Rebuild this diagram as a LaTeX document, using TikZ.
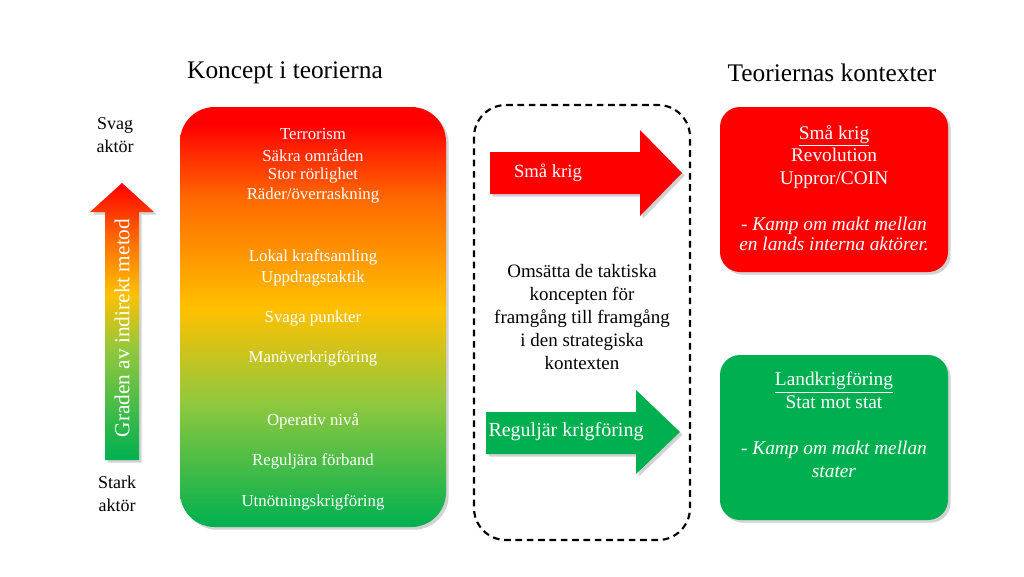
\documentclass[tikz,border=0pt]{standalone}
\usepackage{fontspec}
\setmainfont{Liberation Serif}
\usetikzlibrary{shapes.arrows,shadows}
\definecolor{kred}{HTML}{FF0000}
\definecolor{kgreen}{HTML}{00B050}
\definecolor{kyel}{HTML}{FFC000}
\definecolor{korange}{HTML}{FF6A00}
\definecolor{klime}{HTML}{92C83E}
\pgfdeclareverticalshading{konc}{100bp}{color(0bp)=(kgreen);color(25bp)=(kgreen);color(40bp)=(klime);color(51bp)=(kyel);color(64bp)=(korange);color(73bp)=(kred);color(100bp)=(kred)}
\pgfdeclareverticalshading{varr}{100bp}{color(0bp)=(kgreen);color(25bp)=(kgreen);color(45bp)=(klime);color(55bp)=(kyel);color(65bp)=(korange);color(75bp)=(kred);color(100bp)=(kred)}
\tikzset{
 sh/.style={drop shadow={shadow xshift=2pt,shadow yshift=-2pt,opacity=0.35}},
 wt/.style={text=white,font=\fontsize{12.6}{15}\selectfont,align=center},
 bt/.style={text=black,font=\fontsize{13.5}{17}\selectfont,align=center},
 ttl/.style={font=\fontsize{19}{22}\selectfont},
 bxs/.style={sh,rounded corners=15pt},
 bx/.style={text=white,font=\fontsize{14.5}{17.2}\selectfont,align=center},
}
\begin{document}
\begin{tikzpicture}[x=0.75pt,y=-0.75pt]
\useasboundingbox[fill=white] (0,0) rectangle (1024,576);
\node[ttl] (t1) at (285,73) {Koncept i teorierna};
\node[ttl] (t2) at (832,73) {Teoriernas kontexter};
% left box
\path[sh,rounded corners=26pt,shading=konc] (180,107) rectangle (446,527);
\foreach \t/\y [count=\i] in {{Terrorism}/134,{Säkra områden}/155,{Stor rörlighet}/175,{Räder/överraskning}/195,{Lokal kraftsamling}/257,{Uppdragstaktik}/278,{Svaga punkter}/318,{Manöverkrigföring}/358,{Operativ nivå}/421,{Reguljära förband}/461,{Utnötningskrigföring}/502}
  \node[wt] (c\i) at (313,\y) {\t};
% vertical arrow
\path[sh,shading=varr] (105,460) -- (105,212) -- (90,212) -- (122,183) -- (154,212) -- (139,212) -- (139,460) -- cycle;
\node[wt,rotate=90,font=\fontsize{16}{18}\selectfont] (va) at (122,328) {Graden av indirekt metod};
\node[bt] (svag) at (115,135) {Svag\\aktör};
\node[bt] (stark) at (117,494) {Stark\\aktör};
% dashed box
\draw[line width=1.6pt,dash pattern=on 5pt off 3.5pt,rounded corners=24pt] (474,105) rectangle (690,540);
\path[sh,fill=kred] (490,152) -- (640,152) -- (640,130) -- (682,173) -- (640,216) -- (640,194) -- (490,194) -- cycle;
\node[wt,font=\fontsize{14}{15}\selectfont] (a1) at (548,173) {Små krig};
\path[sh,fill=kgreen] (486,412) -- (636,412) -- (636,390) -- (680,432) -- (636,474) -- (636,454) -- (486,454) -- cycle;
\node[wt,font=\fontsize{15}{15}\selectfont] (a2) at (566,432) {Reguljär krigföring};
\node[bt,font=\fontsize{14.2}{17.3}\selectfont] (mid) at (582,317) {Omsätta de taktiska\\koncepten för\\framgång till framgång\\i den strategiska\\kontexten};
% right boxes
\path[bxs,fill=kred] (720,107) rectangle (948,272);
\node[bx] (r1) at (834,188) {\underline{Små krig}\\Revolution\\Uppror/COIN\\[17pt]\textit{- Kamp om makt mellan}\\[-2pt]\textit{en lands interna aktörer.}};
\path[bxs,fill=kgreen] (720,355) rectangle (948,520);
\node[bx] (r2) at (834,425) {\underline{Landkrigföring}\\Stat mot stat\\[17pt]\textit{- Kamp om makt mellan}\\\textit{stater}};
\end{tikzpicture}
\end{document}
